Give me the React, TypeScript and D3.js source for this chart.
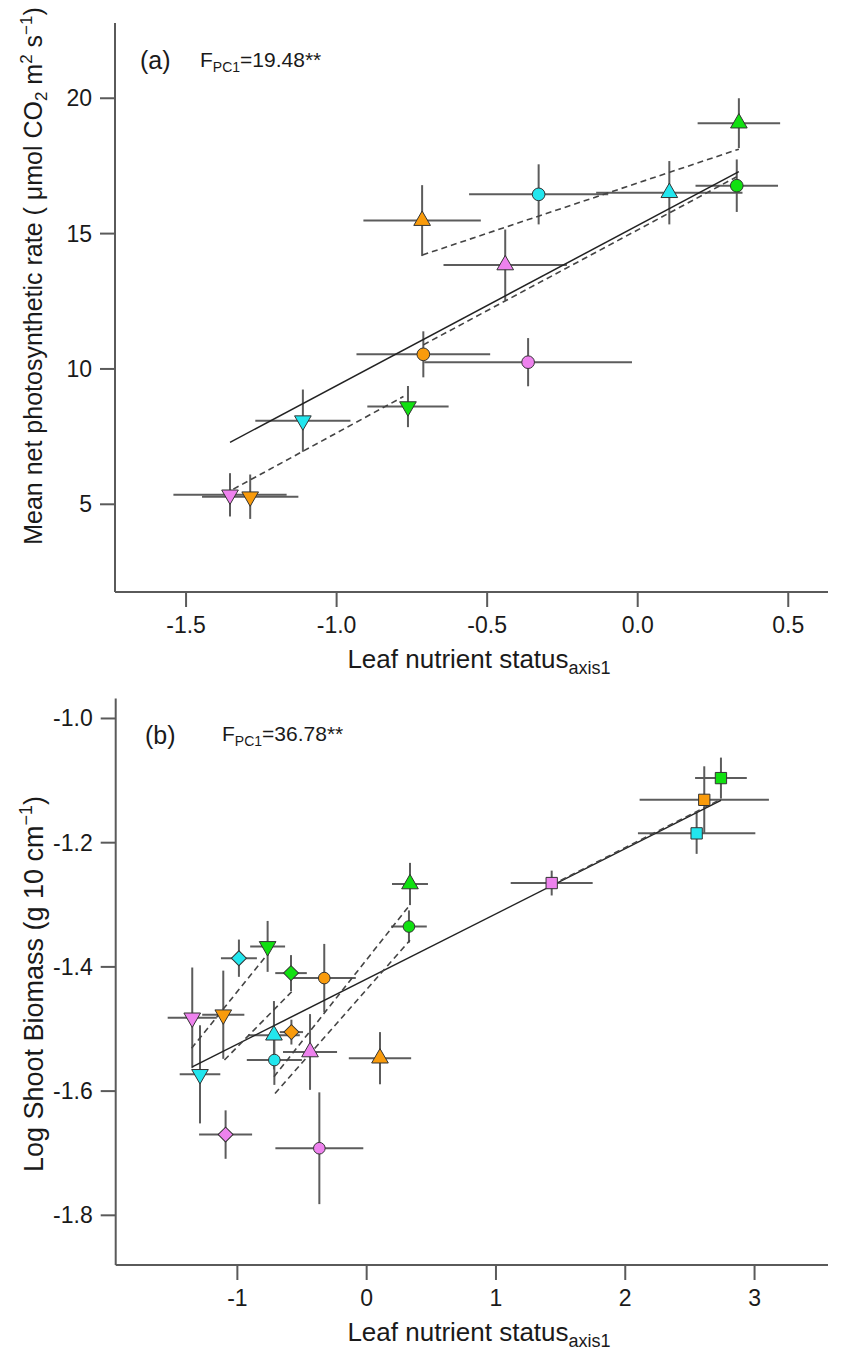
import React from "react";
import * as d3 from "d3";

// ---------- shared ----------
const PALETTE: Record<string, string> = {
  orange: "#F99B0C",
  pink: "#EE82EE",
  cyan: "#22E6EE",
  green: "#11E011",
};

// ---------- panel (a): photosynthetic rate ----------
const aColor = ["green", "green", "cyan", "cyan", "orange", "pink", "orange", "pink", "green", "cyan", "pink", "orange"];
const aShape = ["up", "circle", "up", "circle", "up", "up", "circle", "circle", "down", "down", "down", "down"];
const aX = [0.336, 0.329, 0.105, -0.329, -0.716, -0.44, -0.712, -0.364, -0.763, -1.112, -1.354, -1.287];
const aXErr = [0.137, 0.137, 0.243, 0.231, 0.195, 0.205, 0.222, 0.345, 0.135, 0.158, 0.188, 0.16];
const aY = [19.08, 16.77, 16.51, 16.45, 15.48, 13.84, 10.54, 10.25, 8.61, 8.09, 5.35, 5.28];
const aYErr = [0.92, 0.97, 1.17, 1.11, 1.31, 1.31, 0.85, 0.89, 0.76, 1.15, 0.8, 0.82];
// fitted lines: [x1, x2], [y1, y2]
const aLineX = [[-1.354, 0.336], [-0.715, 0.336], [-0.712, 0.329], [-1.343, -0.778]];
const aLineY = [[7.29, 17.29], [14.21, 18.12], [10.89, 17.1], [5.56, 8.98]];
const aLineDashed = [false, true, true, true];
const aXTicks = [-1.5, -1.0, -0.5, 0.0, 0.5];
const aYTicks = [5, 10, 15, 20];
const aXDomain = [-1.736, 0.632];
const aYDomain = [1.76, 22.78];

// ---------- panel (b): shoot biomass ----------
const bColor = [
  "green", "orange", "cyan", "pink",
  "green", "cyan", "pink", "orange",
  "green", "pink", "orange", "cyan",
  "cyan", "green", "orange", "pink",
  "pink", "green", "orange", "cyan",
];
const bShape = [
  "circle", "circle", "circle", "circle",
  "up", "up", "up", "up",
  "down", "down", "down", "down",
  "diamond", "diamond", "diamond", "diamond",
  "square", "square", "square", "square",
];
const bX = [0.327, -0.328, -0.714, -0.366, 0.335, -0.717, -0.438, 0.103, -0.766, -1.349, -1.109, -1.289, -0.988, -0.585, -0.582, -1.091, 1.431, 2.74, 2.611, 2.552];
const bXErr = [0.138, 0.244, 0.213, 0.34, 0.139, 0.2, 0.209, 0.241, 0.135, 0.19, 0.163, 0.157, 0.139, 0.122, 0.09, 0.205, 0.317, 0.2, 0.5, 0.454];
const bY = [-1.335, -1.418, -1.55, -1.692, -1.2665, -1.51, -1.537, -1.547, -1.367, -1.482, -1.477, -1.573, -1.386, -1.41, -1.505, -1.67, -1.265, -1.096, -1.131, -1.185];
const bYErr = [0.026, 0.055, 0.04, 0.09, 0.034, 0.055, 0.061, 0.042, 0.041, 0.081, 0.071, 0.079, 0.03, 0.029, 0.02, 0.039, 0.02, 0.033, 0.054, 0.033];
const bLineX = [[-1.349, 2.74], [-1.354, -0.761], [-1.1, -0.58], [-0.709, 0.335], [-0.717, 0.335], [1.431, 2.74]];
const bLineY = [[-1.561, -1.132], [-1.531, -1.378], [-1.55, -1.44], [-1.604, -1.357], [-1.577, -1.3], [-1.268, -1.13]];
const bLineDashed = [false, true, true, true, true, true];
const bXTicks = [-1, 0, 1, 2, 3];
const bYTicks = [-1.8, -1.6, -1.4, -1.2, -1.0];
const bXDomain = [-1.941, 3.568];
const bYDomain = [-1.88, -0.968];

const FONT = "'Liberation Sans', Arial, Helvetica, sans-serif";
const AXIS = "#5a5a5a";
const ERR = "#5c5c5c";
const TXT = "#1a1a1a";

function symbolPath(shape: string, big: boolean): { d: string; rot: number } {
  if (shape === "circle") return { d: d3.symbol(d3.symbolCircle, big ? 126 : 106)() as string, rot: 0 };
  if (shape === "up") return { d: d3.symbol(d3.symbolTriangle, 120)() as string, rot: 0 };
  if (shape === "down") return { d: d3.symbol(d3.symbolTriangle, 120)() as string, rot: 180 };
  if (shape === "diamond") return { d: d3.symbol(d3.symbolSquare, 112)() as string, rot: 45 };
  return { d: d3.symbol(d3.symbolSquare, 128)() as string, rot: 0 };
}

type PanelProps = {
  xs: number[]; xe: number[]; ys: number[]; ye: number[];
  colors: string[]; shapes: string[];
  lineX: number[][]; lineY: number[][]; dashed: boolean[];
  xDomain: number[]; yDomain: number[];
  xRange: number[]; yRange: number[];
  xTicks: number[]; yTicks: number[];
  xFmt: (v: number) => string; yFmt: (v: number) => string;
  big: boolean;
};

function Panel(p: PanelProps) {
  const x = d3.scaleLinear().domain(p.xDomain).range(p.xRange);
  const y = d3.scaleLinear().domain(p.yDomain).range(p.yRange);
  const x0 = p.xRange[0];
  const y0 = p.yRange[0];
  const line = d3.line<[number, number]>().x((d) => x(d[0])).y((d) => y(d[1]));
  return (
    <g>
      {/* axes */}
      <line x1={x0} x2={p.xRange[1]} y1={y0} y2={y0} stroke={AXIS} strokeWidth={2} />
      <line x1={x0} x2={x0} y1={y0} y2={p.yRange[1]} stroke={AXIS} strokeWidth={2} />
      {p.xTicks.map((t) => (
        <g key={"xt" + t}>
          <line x1={x(t)} x2={x(t)} y1={y0} y2={y0 + 15} stroke={AXIS} strokeWidth={2} />
          <text x={x(t)} y={y0 + 41} textAnchor="middle" fontSize={23} fill={TXT}>{p.xFmt(t)}</text>
        </g>
      ))}
      {p.yTicks.map((t) => (
        <g key={"yt" + t}>
          <line x1={x0 - 15} x2={x0} y1={y(t)} y2={y(t)} stroke={AXIS} strokeWidth={2} />
          <text x={x0 - 23} y={y(t) + 8} textAnchor="end" fontSize={23} fill={TXT}>{p.yFmt(t)}</text>
        </g>
      ))}
      {/* error bars */}
      {p.xs.map((v, i) => (
        <g key={"e" + i} stroke={ERR} strokeWidth={2}>
          <line x1={x(v - p.xe[i])} x2={x(v + p.xe[i])} y1={y(p.ys[i])} y2={y(p.ys[i])} />
          <line x1={x(v)} x2={x(v)} y1={y(p.ys[i] - p.ye[i])} y2={y(p.ys[i] + p.ye[i])} />
        </g>
      ))}
      {/* fitted lines */}
      {p.lineX.map((lx, i) => (
        <path
          key={"l" + i}
          d={line([[lx[0], p.lineY[i][0]], [lx[1], p.lineY[i][1]]]) as string}
          fill="none"
          stroke={p.dashed[i] ? "#444" : "#222"}
          strokeWidth={p.dashed[i] ? 1.6 : 1.5}
          strokeDasharray={p.dashed[i] ? "6,4" : undefined}
        />
      ))}
      {/* markers */}
      {p.xs.map((v, i) => {
        const s = symbolPath(p.shapes[i], p.big);
        return (
          <path
            key={"m" + i}
            d={s.d}
            transform={`translate(${x(v)},${y(p.ys[i])}) rotate(${s.rot})`}
            fill={PALETTE[p.colors[i]]}
            stroke="#333"
            strokeWidth={1}
          />
        );
      })}
    </g>
  );
}

export default function App() {
  const f1 = d3.format(".1f");
  const fInt = (v: number) => d3.format("d")(v).replace("−", "-");
  const fA = (v: number) => f1(v).replace("−", "-");
  return (
    <svg
      width={841}
      height={1362}
      style={{ position: "absolute", left: 0, top: 0, background: "#fff" }}
      fontFamily={FONT}
    >
      <rect x={0} y={0} width={841} height={1362} fill="#fff" />
      {/* Panel (a) */}
      <Panel
        xs={aX} xe={aXErr} ys={aY} ye={aYErr} colors={aColor} shapes={aShape}
        lineX={aLineX} lineY={aLineY} dashed={aLineDashed}
        xDomain={aXDomain} yDomain={aYDomain}
        xRange={[115, 828]} yRange={[592, 23]}
        xTicks={aXTicks} yTicks={aYTicks}
        xFmt={fA} yFmt={(v) => String(v)} big={true}
      />
      <text x={140} y={69} fontSize={25} fill={TXT}>(a)</text>
      <text x={200} y={67} fontSize={21} fill={TXT}>
        F<tspan fontSize={14} dy={5}>PC1</tspan><tspan dy={-5}>=19.48**</tspan>
      </text>
      <text transform="translate(42,276) rotate(-90)" textAnchor="middle" fontSize={25} fill={TXT}>
        Mean net photosynthetic rate ( μmol CO<tspan fontSize={17} dy={5}>2</tspan>
        <tspan dy={-5}> m</tspan><tspan fontSize={17} dy={-10}>2</tspan>
        <tspan dy={10}> s</tspan><tspan fontSize={17} dy={-10}>−1</tspan>
        <tspan dy={10}>)</tspan>
      </text>
      <text x={479} y={668} textAnchor="middle" fontSize={26} fill={TXT}>
        Leaf nutrient status<tspan fontSize={18} dy={6}>axis1</tspan>
      </text>

      {/* Panel (b) */}
      <Panel
        xs={bX} xe={bXErr} ys={bY} ye={bYErr} colors={bColor} shapes={bShape}
        lineX={bLineX} lineY={bLineY} dashed={bLineDashed}
        xDomain={bXDomain} yDomain={bYDomain}
        xRange={[115.7, 828]} yRange={[1265, 698.6]}
        xTicks={bXTicks} yTicks={bYTicks}
        xFmt={fInt} yFmt={fA} big={false}
      />
      <text x={145} y={744} fontSize={25} fill={TXT}>(b)</text>
      <text x={222} y={741} fontSize={21} fill={TXT}>
        F<tspan fontSize={14} dy={5}>PC1</tspan><tspan dy={-5}>=36.78**</tspan>
      </text>
      <text transform="translate(43,984) rotate(-90)" textAnchor="middle" fontSize={27} fill={TXT}>
        Log Shoot Biomass (g 10 cm<tspan fontSize={18} dy={-11}>−1</tspan><tspan dy={11}>)</tspan>
      </text>
      <text x={479} y={1341} textAnchor="middle" fontSize={26} fill={TXT}>
        Leaf nutrient status<tspan fontSize={18} dy={6}>axis1</tspan>
      </text>
    </svg>
  );
}
